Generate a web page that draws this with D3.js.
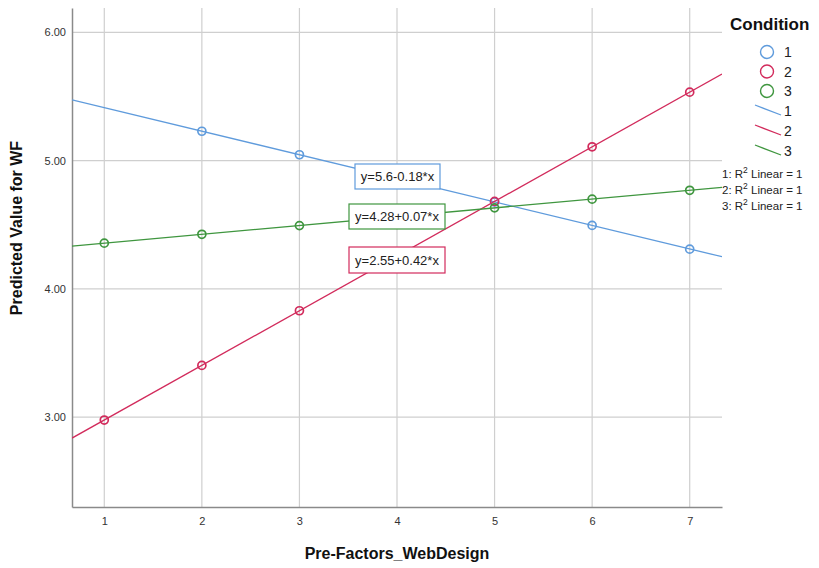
<!DOCTYPE html>
<html>
<head>
<meta charset="utf-8">
<script src="https://cdn.jsdelivr.net/npm/d3@7"></script>
<style>
  body { margin: 0; background: #fff; }
  text { font-family: "Liberation Sans", Arial, sans-serif; }
</style>
</head>
<body>
<svg id="chart" width="819" height="568"></svg>
<script>
// ---- data ----
const conditions = ["1", "2", "3"];
const colors = ["#5f9bdc", "#d22b5c", "#3f963f"];
const xTicks = [1, 2, 3, 4, 5, 6, 7];
const yTicks = [3, 4, 5, 6];
// observed points per condition
const xs1 = [2, 3, 5, 6, 7];
const ys1 = [5.229, 5.046, 4.678, 4.495, 4.310];
const xs2 = [1, 2, 3, 5, 6, 7];
const ys2 = [2.978, 3.404, 3.830, 4.682, 5.108, 5.534];
const xs3 = [1, 2, 3, 5, 6, 7];
const ys3 = [4.357, 4.426, 4.494, 4.632, 4.700, 4.769];
// regression fits
const intercepts = [5.597, 2.552, 4.288];
const slopes = [-0.1836, 0.426, 0.0687];
const fitLabels = ["y=5.6-0.18*x", "y=2.55+0.42*x", "y=4.28+0.07*x"];
const r2Labels = ["1: R", "2: R", "3: R"];

// ---- layout ----
const svg = d3.select("#chart");
const mLeft = 72, mRight = 722, mTop = 8, mBottom = 507;
const x = d3.scaleLinear().domain([0.669, 7.331]).range([mLeft, mRight]);
const y = d3.scaleLinear().domain([2.30, 6.19]).range([mBottom, mTop]);

// grid
svg.append("g").selectAll("line").data(xTicks).join("line")
  .attr("x1", d => x(d)).attr("x2", d => x(d)).attr("y1", mTop).attr("y2", mBottom)
  .attr("stroke", "#cfcfcf").attr("stroke-width", 1.2);
svg.append("g").selectAll("line").data(yTicks).join("line")
  .attr("x1", mLeft).attr("x2", mRight).attr("y1", d => y(d)).attr("y2", d => y(d))
  .attr("stroke", "#cfcfcf").attr("stroke-width", 1.2);

// axes
const xAxis = svg.append("g").attr("transform", `translate(0,${mBottom})`)
  .call(d3.axisBottom(x).tickValues(xTicks).tickSize(0).tickPadding(10).tickFormat(d3.format("d")));
const yAxis = svg.append("g").attr("transform", `translate(${mLeft},0)`)
  .call(d3.axisLeft(y).tickValues(yTicks).tickSize(0).tickPadding(6).tickFormat(d3.format(".2f")));
[xAxis, yAxis].forEach(g => {
  g.select(".domain").attr("stroke", "#8a8a8a").attr("stroke-width", 1.5);
  g.selectAll("text").attr("font-size", 11).attr("fill", "#333")
    .attr("font-family", "'Liberation Sans', Arial, sans-serif");
});

// clip for fit lines
svg.append("clipPath").attr("id", "clip").append("rect")
  .attr("x", mLeft).attr("y", mTop).attr("width", mRight - mLeft).attr("height", mBottom - mTop);

const seriesX = [xs1, xs2, xs3];
const seriesY = [ys1, ys2, ys3];
const domain = x.domain();

// fit lines
const lineGen = d3.line().x(d => x(d[0])).y(d => y(d[1]));
conditions.forEach((c, i) => {
  const pts = domain.map(v => [v, intercepts[i] + slopes[i] * v]);
  svg.append("path").attr("d", lineGen(pts)).attr("fill", "none")
    .attr("stroke", colors[i]).attr("stroke-width", 1.3).attr("clip-path", "url(#clip)");
});

// points
conditions.forEach((c, i) => {
  svg.append("g").selectAll("circle").data(seriesX[i].map((v, k) => [v, seriesY[i][k]])).join("circle")
    .attr("cx", d => x(d[0])).attr("cy", d => y(d[1])).attr("r", 4)
    .attr("fill", "none").attr("stroke", colors[i]).attr("stroke-width", 1.7);
});

// fit labels
const labelBoxes = [
  {i: 0, x: 355, y: 164, w: 85, h: 25},
  {i: 2, x: 349, y: 204, w: 96, h: 25},
  {i: 1, x: 349, y: 247, w: 96, h: 26}
];
labelBoxes.forEach(b => {
  svg.append("rect").attr("x", b.x).attr("y", b.y).attr("width", b.w).attr("height", b.h)
    .attr("fill", "#fff").attr("stroke", colors[b.i]).attr("stroke-width", 1.2);
  svg.append("text").attr("x", b.x + b.w / 2).attr("y", b.y + b.h / 2 + 4.5)
    .attr("text-anchor", "middle").attr("font-size", 13).attr("fill", "#222")
    .text(fitLabels[b.i]);
});

// axis titles
svg.append("text").attr("x", 397).attr("y", 559).attr("text-anchor", "middle")
  .attr("font-size", 16).attr("font-weight", "bold").attr("fill", "#111")
  .text("Pre-Factors_WebDesign");
svg.append("text").attr("transform", "translate(22,228) rotate(-90)").attr("text-anchor", "middle")
  .attr("font-size", 16).attr("font-weight", "bold").attr("fill", "#111")
  .text("Predicted Value for WF");

// legend
svg.append("text").attr("x", 730).attr("y", 30).attr("font-size", 17).attr("font-weight", "bold")
  .attr("fill", "#111").text("Condition");
conditions.forEach((c, i) => {
  const cy = 52 + i * 19.5;
  svg.append("circle").attr("cx", 767).attr("cy", cy).attr("r", 6.5)
    .attr("fill", "none").attr("stroke", colors[i]).attr("stroke-width", 1.4);
  svg.append("text").attr("x", 784).attr("y", cy + 5).attr("font-size", 14).attr("fill", "#222").text(c);
});
conditions.forEach((c, i) => {
  const cy = 111 + i * 20;
  svg.append("line").attr("x1", 755).attr("y1", cy - 6).attr("x2", 781).attr("y2", cy + 4)
    .attr("stroke", colors[i]).attr("stroke-width", 1.3);
  svg.append("text").attr("x", 784).attr("y", cy + 5).attr("font-size", 14).attr("fill", "#222").text(c);
});
r2Labels.forEach((t, i) => {
  const ty = 178 + i * 16;
  const tx = svg.append("text").attr("x", 722).attr("y", ty).attr("font-size", 11.5).attr("fill", "#222");
  tx.append("tspan").text(t);
  tx.append("tspan").attr("dy", -5).attr("font-size", 8.5).text("2");
  tx.append("tspan").attr("dy", 5).text(" Linear = 1");
});
</script>
</body>
</html>
